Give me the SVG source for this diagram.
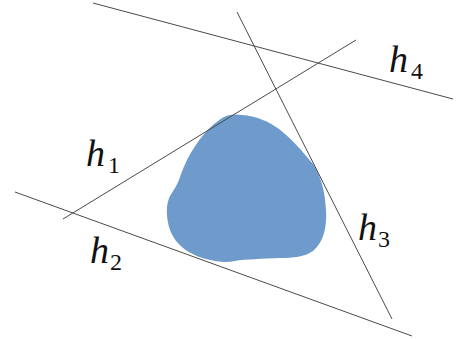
<svg xmlns="http://www.w3.org/2000/svg" width="458" height="339" viewBox="0 0 458 339">
<defs>
<style>
.ln{stroke:#4a4a4a;stroke-width:1;fill:none}
</style>
</defs>
<rect width="458" height="339" fill="#fff"/>
<g id="blob">
<path fill="#6e9bcc" d="M222,118 C228,114 236,114 242,115 C256,116 268,121 279,129 C292,139 303,152 313,164 C322,178 325,193 326,210 C327,226 324,242 313,251 C304,257 294,258 280,258 C262,259 246,259 235,261 C226,263 218,262 206,259 C188,254 174,244 169,227 C166,215 166,204 170,196 C175,188 178,184 181,174 C188,155 200,136 214,124 Z"/>
</g>
<g id="connectors">
<line class="ln" x1="93" y1="3" x2="453" y2="99"/>
<line class="ln" x1="237" y1="12" x2="392" y2="319"/>
<line class="ln" x1="356" y1="40" x2="63" y2="219"/>
<line class="ln" x1="15" y1="192" x2="412" y2="336"/>
</g>
<g font-family="Liberation Serif, DejaVu Serif, serif" fill="#111">
<g id="h1"><text x="86" y="166" font-size="38" font-style="italic">h</text><text x="108" y="173" font-size="24">1</text></g>
<g id="h2"><text x="90" y="263" font-size="38" font-style="italic">h</text><text x="110" y="270" font-size="24">2</text></g>
<g id="h3"><text x="358" y="240" font-size="38" font-style="italic">h</text><text x="378" y="247" font-size="24">3</text></g>
<g id="h4"><text x="389" y="72" font-size="38" font-style="italic">h</text><text x="411" y="79" font-size="24">4</text></g>
</g>
</svg>
